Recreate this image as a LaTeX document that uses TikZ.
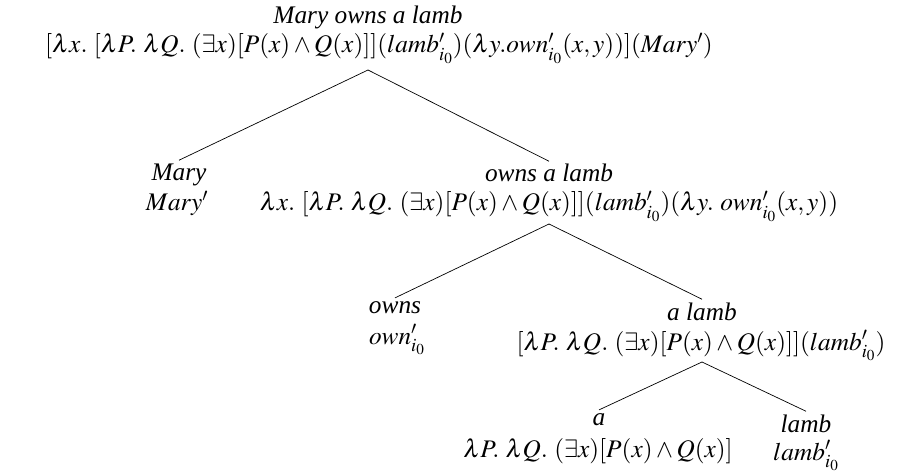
\documentclass[tikz,border=0pt]{standalone}
\usepackage{mathptmx}
\usepackage[no-math]{fontspec}
\setmainfont{Liberation Serif}
\begin{document}
\begin{tikzpicture}[x=1pt,y=-1pt,
  every node/.style={font=\fontsize{25.3}{30}\selectfont, inner sep=0pt},
  lbl/.style={anchor=base},
  frm/.style={anchor=base},
  branch/.style={line width=0.7pt}]
\useasboundingbox (0,0) rectangle (900,476);
% root
\node[lbl] (L0) at (368,24) {\textit{Mary owns a lamb}};
\node[frm] (F0) at (379,53) {$[\lambda x.\ [\lambda P.\ \lambda Q.\ (\exists x)[P(x)\wedge Q(x)]](lamb'_{i_0})(\lambda y.own'_{i_0}(x,y))](Mary')$};
% Mary
\node[lbl] (L1) at (179,180) {\textit{Mary}};
\node[frm] (F1) at (177,211) {$Mary'$};
% owns a lamb
\node[lbl] (L2) at (549,182) {\textit{owns a lamb}};
\node[frm] (F2) at (549,211) {$\lambda x.\ [\lambda P.\ \lambda Q.\ (\exists x)[P(x)\wedge Q(x)]](lamb'_{i_0})(\lambda y.\ own'_{i_0}(x,y))$};
% owns
\node[lbl] (L3) at (395,313) {\textit{owns}};
\node[frm] (F3) at (397,344) {$own'_{i_0}$};
% a lamb
\node[lbl] (L4) at (702,320) {\textit{a lamb}};
\node[frm] (F4) at (701,350) {$[\lambda P.\ \lambda Q.\ (\exists x)[P(x)\wedge Q(x)]](lamb'_{i_0})$};
% a
\node[lbl] (L5) at (599,425) {\textit{a}};
\node[frm] (F5) at (598,457) {$\lambda P.\ \lambda Q.\ (\exists x)[P(x)\wedge Q(x)]$};
% lamb
\node[lbl] (L6) at (806,432) {\textit{lamb}};
\node[frm] (F6) at (806,460) {$lamb'_{i_0}$};
% apex coordinates
\coordinate (A0) at ([yshift=-17pt]F0.base -| L0.base);
\coordinate (A2) at ([yshift=-13pt]F2.base -| L2.base);
\coordinate (A4) at ([yshift=-12pt]F4.base -| L4.base);
\draw[branch] (A0) -- ([yshift=3pt]L1.north);
\draw[branch] (A0) -- ([yshift=3pt]L2.north);
\draw[branch] (A2) -- ([yshift=3pt]L3.north);
\draw[branch] (A2) -- ([yshift=3pt]L4.north);
\draw[branch] (A4) -- ([yshift=3pt]L5.north);
\draw[branch] (A4) -- ([yshift=3pt]L6.north);
% clipped caption
\begin{scope}
\clip (0,0) rectangle (900,476);
\node[anchor=base west, font=\bfseries\fontsize{24}{28}\selectfont, text=black!70] (cap) at (24,500) {d Translation Tree};
\end{scope}
\end{tikzpicture}
\end{document}
